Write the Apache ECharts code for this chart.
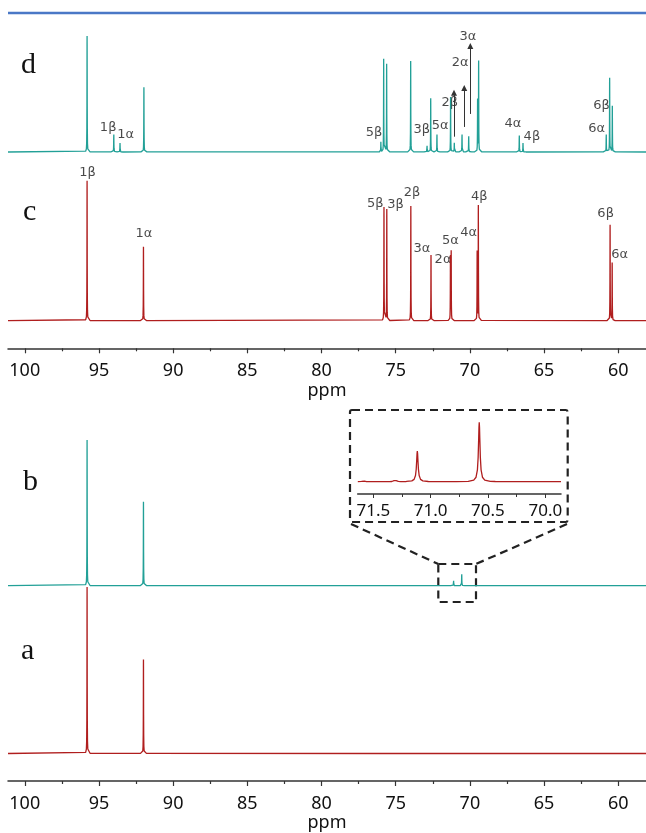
<!DOCTYPE html>
<html>
<head>
<meta charset="utf-8">
<script src="https://cdn.jsdelivr.net/npm/echarts@6/dist/echarts.min.js"></script>
<style>
  html, body { margin: 0; padding: 0; background: #fff; }
  #chart { width: 646px; height: 833px; }
</style>
</head>
<body>
<div id="chart"></div>
<script>
// ppm window of the spectra (axis reversed, as usual for NMR)
const ppmLow = 58.13
const ppmHigh = 101.13
const majorTicks = [60, 65, 70, 75, 80, 85, 90, 95, 100]
const minorTicks = [62.5, 67.5, 72.5, 77.5, 82.5, 87.5, 92.5, 97.5]

// d
const dPpm = [95.8, 94.0, 93.58, 91.97, 76.0, 75.81, 75.61, 73.99, 72.89, 72.64, 72.22, 71.3, 71.05, 70.53, 70.08, 69.48, 69.41, 66.67, 66.42, 60.81, 60.58, 60.4]
const dInt = [100, 16.4, 7.8, 55.8, 8.6, 80.2, 75.9, 78.4, 7.2, 46.3, 16.4, 47.4, 7.8, 16.4, 14.7, 45, 78.2, 15.5, 7.8, 16.4, 63.8, 39.7]
const dLabels = ['1β', '1α', '5β', '3β', '5α', '2β', '2α', '3α', '4α', '4β', '6β', '6α']
const dLabelPpm = [94.38, 93.2, 76.46, 73.25, 72.0, 71.35, 70.66, 70.13, 67.1, 65.82, 61.12, 61.46]
const dLabelInt = [20.9, 14.7, 16.6, 19, 22.4, 42.2, 77, 99.1, 24.1, 13.2, 39.9, 20.4]
const arrowPpm = [71.07, 70.38, 69.97]
const arrowFrom = [13.2, 21.6, 32.8]
const arrowTo = [51.1, 55.2, 91.4]

// c
const cPpm = [95.8, 92.0, 75.79, 75.6, 73.98, 72.62, 71.31, 71.26, 69.51, 69.43, 60.55, 60.41]
const cInt = [100, 52.9, 81, 79.6, 81.9, 46.9, 45.7, 49.1, 49.3, 82.1, 68.4, 41.4]
const cLabels = ['1β', '1α', '5β', '3β', '2β', '4β', '6β', '3α', '2α', '5α', '4α', '6α']
const cLabelPpm = [95.77, 91.97, 76.37, 75.01, 73.9, 69.37, 60.85, 73.23, 71.81, 71.32, 70.09, 59.91]
const cLabelInt = [105.7, 61.9, 83.9, 83.1, 91.4, 88.6, 76.2, 51.7, 43.9, 57.1, 63.1, 46.9]

// b
const bPpm = [95.8, 92.0, 75.8, 71.1, 70.55]
const bInt = [100, 57.7, 0.7, 4.6, 8.6]

// a
const aPpm = [95.8, 92.0, 75.8, 74.0, 72.6, 69.5, 60.6]
const aInt = [100, 56.5, 0.9, 0.4, 0.5, 0.8, 0.5]

// inset (zoom of b)
const insetPpm = [71.587, 71.31, 71.116, 70.576, 70.236]
const insetInt = [2.2, 3.9, 51.8, 100, 0.5]
const insetMajor = [70.0, 70.5, 71.0, 71.5]
const insetMinor = [70.25, 70.75, 71.25]

const teal = '#22a097'
const red = '#b01e1e'

// lorentzian lines built from the peak lists
function spectrum(ppm, inten, gamma, lo, hi) {
  const offs = [-25, -12, -6, -3.5, -2, -1.2, -0.6, -0.3, 0, 0.3, 0.6, 1.2, 2, 3.5, 6, 12, 25]
  let xs = [lo, hi]
  ppm.forEach(p => offs.forEach(o => xs.push(p + o * gamma)))
  xs = xs.filter(x => x >= lo && x <= hi).sort((a, b) => a - b)
  return xs.map(x => {
    let y = 0
    ppm.forEach((p, i) => { y += inten[i] * gamma * gamma / ((x - p) * (x - p) + gamma * gamma) })
    return [x, y]
  })
}

function labelData(names, xs, ys) {
  return names.map((n, i) => ({ name: n, value: [xs[i], ys[i]] }))
}

const fontAxis = 'Noto Sans'
const hiddenX = (grid) => ({
  gridIndex: grid, type: 'value', inverse: true, min: ppmLow, max: ppmHigh,
  show: false, axisLine: { onZero: false }
})
const majorX = (grid, withName, gap) => ({
  gridIndex: grid, type: 'value', inverse: true, min: ppmLow, max: ppmHigh,
  position: 'bottom',
  name: withName ? 'ppm' : '', nameLocation: 'middle', nameGap: gap,
  nameTextStyle: { fontFamily: fontAxis, fontSize: 18, color: '#111' },
  axisLine: { show: true, onZero: false, lineStyle: { color: '#333', width: 1.5 } },
  axisTick: { show: true, length: 5, customValues: majorTicks, lineStyle: { color: '#333', width: 1.2 } },
  axisLabel: { show: true, customValues: majorTicks, margin: 14, fontFamily: fontAxis, fontSize: 18, color: '#111' },
  splitLine: { show: false }
})
const minorX = (grid) => ({
  gridIndex: grid, type: 'value', inverse: true, min: ppmLow, max: ppmHigh,
  position: 'bottom',
  axisLine: { show: false, onZero: false },
  axisTick: { show: true, length: 3, customValues: minorTicks, lineStyle: { color: '#333', width: 1.2 } },
  axisLabel: { show: false },
  splitLine: { show: false }
})
const yAx = (grid, min, max) => ({ gridIndex: grid, type: 'value', min: min, max: max, show: false })

const labelSeries = (names, xs, ys, xi, yi) => ({
  type: 'scatter', xAxisIndex: xi, yAxisIndex: yi, symbolSize: 0, silent: true, clip: false,
  data: labelData(names, xs, ys),
  label: { show: true, position: 'inside', formatter: '{b}', fontFamily: 'DejaVu Sans', fontSize: 13, color: '#1a1a1a' }
})

const lineSeries = (data, color, xi, yi) => ({
  type: 'line', xAxisIndex: xi, yAxisIndex: yi, data: data, showSymbol: false, symbol: 'none',
  lineStyle: { color: color, width: 1.3 }, silent: true
})

const chart = echarts.init(document.getElementById('chart'))

const dSeries = lineSeries(spectrum(dPpm, dInt, 0.008, ppmLow, ppmHigh), teal, 0, 0)
dSeries.markLine = {
  silent: true, symbol: ['none', 'triangle'], symbolSize: 6,
  lineStyle: { color: '#333', width: 1, type: 'solid' }, label: { show: false },
  data: arrowPpm.map((p, i) => [{ coord: [p, arrowFrom[i]] }, { coord: [p, arrowTo[i]] }])
}

chart.setOption({
  animation: false,
  backgroundColor: '#fff',
  grid: [
    { left: 8, right: 0, top: 30.2, height: 127.6 },
    { left: 8, right: 0, top: 180, height: 168.3 },
    { left: 8, right: 0, top: 432.7, height: 160.3 },
    { left: 8, right: 0, top: 580, height: 202.7 },
    { left: 357.7, width: 203.3, top: 420, height: 74 }
  ],
  xAxis: [
    hiddenX(0),
    majorX(1, true, 34),
    minorX(1),
    hiddenX(2),
    majorX(3, true, 33),
    minorX(3),
    {
      gridIndex: 4, type: 'value', inverse: true, min: 69.863, max: 71.636, position: 'bottom',
      axisLine: { show: true, onZero: false, lineStyle: { color: '#333', width: 1.5 } },
      axisTick: { show: true, length: 4, customValues: insetMajor, lineStyle: { color: '#333' } },
      axisLabel: { show: true, customValues: insetMajor, margin: 9, fontFamily: fontAxis, fontSize: 17, color: '#111',
        formatter: v => v.toFixed(1) },
      splitLine: { show: false }
    },
    {
      gridIndex: 4, type: 'value', inverse: true, min: 69.863, max: 71.636, position: 'bottom',
      axisLine: { show: false, onZero: false },
      axisTick: { show: true, length: 3, customValues: insetMinor, lineStyle: { color: '#333' } },
      axisLabel: { show: false }, splitLine: { show: false }
    }
  ],
  yAxis: [
    yAx(0, -5, 105),
    yAx(1, -19.7, 100.5),
    yAx(2, -5, 105),
    yAx(3, -16.5, 104.2),
    yAx(4, -20.7, 104)
  ],
  series: [
    dSeries,
    labelSeries(dLabels, dLabelPpm, dLabelInt, 0, 0),
    lineSeries(spectrum(cPpm, cInt, 0.008, ppmLow, ppmHigh), red, 1, 1),
    labelSeries(cLabels, cLabelPpm, cLabelInt, 1, 1),
    lineSeries(spectrum(bPpm, bInt, 0.008, ppmLow, ppmHigh), teal, 3, 2),
    lineSeries(spectrum(aPpm, aInt, 0.008, ppmLow, ppmHigh), red, 4, 3),
    lineSeries(spectrum(insetPpm, insetInt, 0.008, 69.863, 71.636), red, 6, 4)
  ],
  graphic: [
    { type: 'line', shape: { x1: 8, y1: 13, x2: 646, y2: 13 }, style: { stroke: '#4a78c6', lineWidth: 2.5 } },
    { type: 'text', left: 21, top: 50, style: { text: 'd', fontFamily: 'Liberation Serif', fontSize: 30, fill: '#111' } },
    { type: 'text', left: 23, top: 197, style: { text: 'c', fontFamily: 'Liberation Serif', fontSize: 30, fill: '#111' } },
    { type: 'text', left: 23, top: 467, style: { text: 'b', fontFamily: 'Liberation Serif', fontSize: 30, fill: '#111' } },
    { type: 'text', left: 21, top: 636, style: { text: 'a', fontFamily: 'Liberation Serif', fontSize: 30, fill: '#111' } },
    // zoom box and its connectors
    { type: 'rect', shape: { x: 350, y: 410, width: 217.7, height: 112, r: 2 },
      style: { fill: 'none', stroke: '#222', lineWidth: 2.2, lineDash: [8, 5] } },
    { type: 'rect', shape: { x: 438.3, y: 564, width: 37.7, height: 38 },
      style: { fill: 'none', stroke: '#222', lineWidth: 2.2, lineDash: [8, 5] } },
    { type: 'line', shape: { x1: 351, y1: 524, x2: 438.3, y2: 564 },
      style: { stroke: '#222', lineWidth: 2.2, lineDash: [8, 5] } },
    { type: 'line', shape: { x1: 567, y1: 524, x2: 476, y2: 564 },
      style: { stroke: '#222', lineWidth: 2.2, lineDash: [8, 5] } }
  ]
})
</script>
</body>
</html>
